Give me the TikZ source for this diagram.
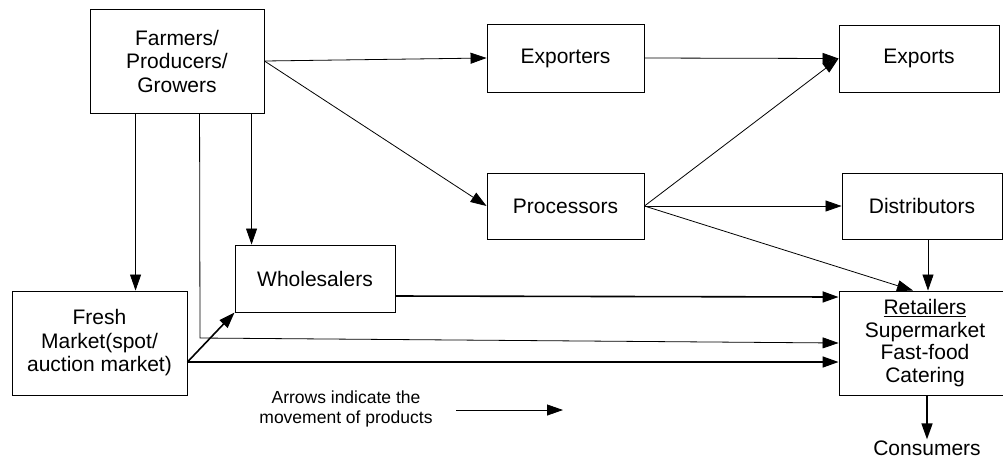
\documentclass[tikz,border=0pt]{standalone}
\usepackage{fontspec}
\setmainfont{Liberation Sans}
\usetikzlibrary{arrows.meta}
\begin{document}
\begin{tikzpicture}[x=1pt,y=-1pt,
  box/.style={draw, line width=0.9pt, inner sep=0pt, align=center,
    font=\fontsize{21}{23.5}\selectfont},
  arr/.style={-{Triangle[length=16pt,width=11pt]}, line width=0.8pt},
  tarr/.style={-{Triangle[length=16pt,width=11pt]}, line width=1.6pt},
  lbl/.style={inner sep=1pt, align=center}]
\useasboundingbox (0,0) rectangle (1003,459);
\clip (0,0) rectangle (1003,459);

\node[box, minimum width=174pt, minimum height=104pt] (farmers) at (177,61) {Farmers/\\Producers/\\Growers};
\node[box, minimum width=157pt, minimum height=68pt] (exporters) at (565.5,58) {Exporters};
\node[box, minimum width=160pt, minimum height=67pt] (exports) at (919,58.5) {Exports};
\node[box, minimum width=157pt, minimum height=66pt] (processors) at (565.5,206) {Processors};
\node[box, minimum width=160pt, minimum height=66pt] (distributors) at (922,206) {Distributors};
\node[box, minimum width=160pt, minimum height=67pt] (wholesalers) at (315,278.5) {Wholesalers};
\node[box, minimum width=175pt, minimum height=104pt] (fresh) at (99.5,343) {Fresh\\Market(spot/\\auction market)};
\node[box, minimum width=172pt, minimum height=104pt, font=\fontsize{21}{22.5}\selectfont] (retailers) at (925,343) {\underline{Retailers}\\Supermarket\\Fast-food\\Catering};
\node[lbl, font=\fontsize{21}{23}\selectfont] (consumers) at (927,448) {Consumers};
\node[lbl, font=\fontsize{17.5}{20}\selectfont] (legend) at (346,409) {Arrows indicate the\\movement of products};

\coordinate (bendA) at (200,338);
\coordinate (legA) at (456,410);
\coordinate (legB) at (563,410);

% from farmers
\draw[arr] ([xshift=46pt]farmers.south west) -- ([xshift=46pt]farmers.south west |- fresh.north);
\draw[arr] ([xshift=110pt]farmers.south west) -- (bendA) -- (retailers.west);
\draw[arr] ([xshift=162pt]farmers.south west) -- ([xshift=162pt]farmers.south west |- wholesalers.north);
\draw[arr] (farmers.east) -- (exporters.west);
\draw[arr] (farmers.east) -- (processors.west);

% exporters / processors
\draw[arr] (exporters.east) -- (exports.west);
\draw[arr] (processors.east) -- (exports.west);
\draw[arr] (processors.east) -- (distributors.west);
\draw[arr] (processors.east) -- ([xshift=-12pt]retailers.north);
\draw[arr] ([xshift=6pt]distributors.south) -- ([xshift=6pt]distributors.south |- retailers.north);

% wholesalers / fresh market
\draw[tarr] ([yshift=-17.5pt]wholesalers.east) -- ([yshift=46pt]retailers.west);
\draw[tarr] ([yshift=-19pt]fresh.east) -- (wholesalers.south west);
\draw[tarr] ([yshift=-19pt]fresh.east) -- ([yshift=-19pt]retailers.west);

% consumers
\draw[tarr] (consumers.north |- retailers.south) -- (consumers.north);

% legend
\draw[arr] (legA) -- (legB);
\end{tikzpicture}
\end{document}
